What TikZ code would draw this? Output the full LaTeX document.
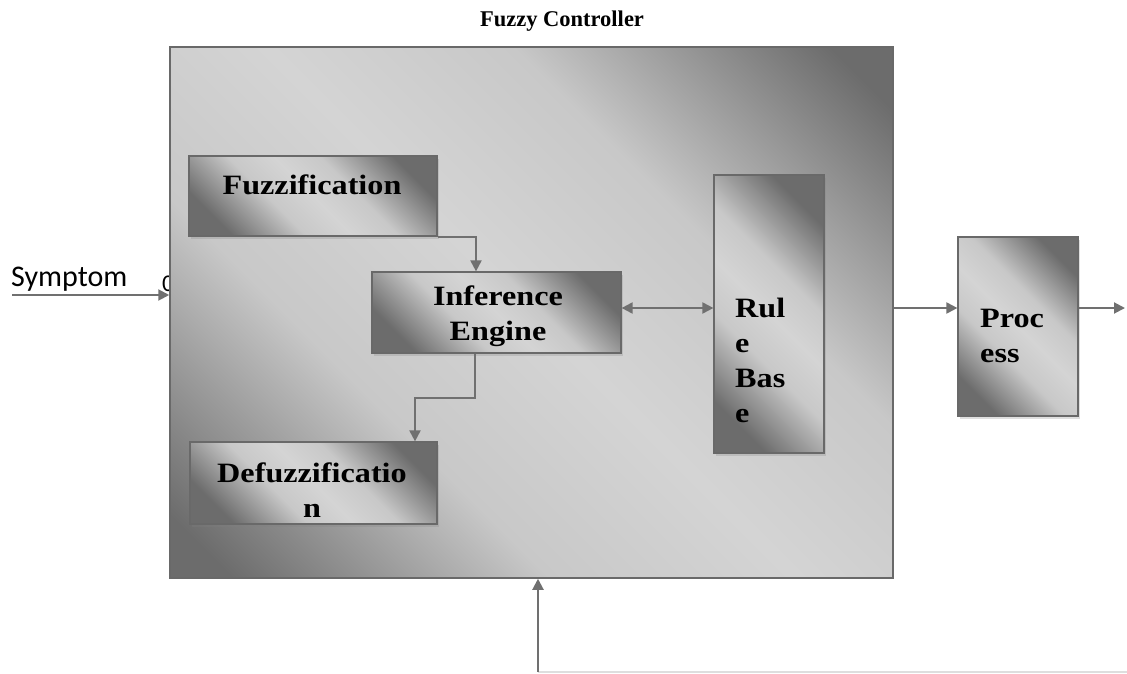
\documentclass[tikz,border=0pt]{standalone}
\usepackage{fontspec}
\setmainfont{Liberation Serif}
\newfontfamily\blockfont[FakeStretch=1.15]{Liberation Serif}
\newfontfamily\labelfont{Carlito}
\usetikzlibrary{arrows.meta,shadows,calc}

\definecolor{edgeGray}{RGB}{105,105,105}
\definecolor{arrowGray}{RGB}{112,112,112}
\definecolor{shadeDark}{RGB}{108,108,108}
\definecolor{shadeLight}{RGB}{212,212,212}
\definecolor{shadeMid}{RGB}{200,200,200}
\definecolor{faintGray}{RGB}{222,222,222}

% dark corners, wide light band
\pgfdeclareverticalshading{bandShade}{100bp}{color(0bp)=(shadeDark); color(24bp)=(shadeDark);
	color(40bp)=(shadeMid); color(50bp)=(shadeLight); color(60bp)=(shadeMid);
	color(76bp)=(shadeDark); color(100bp)=(shadeDark)}
\pgfdeclareverticalshading{ctrlShade}{100bp}{color(0bp)=(shadeDark); color(18bp)=(shadeDark);
	color(36bp)=(shadeMid); color(50bp)=(shadeLight); color(64bp)=(shadeMid);
	color(82bp)=(shadeDark); color(100bp)=(shadeDark)}

\tikzset{
	blockBox/.style={rectangle, draw=edgeGray, line width=1.2pt, shading=bandShade, shading angle=-45,
		drop shadow={shadow xshift=2pt, shadow yshift=-3pt, opacity=0.25}},
	blockText/.style={font=\blockfont\bfseries\fontsize{28}{35}\selectfont, inner sep=0pt},
	flowArrow/.style={draw=arrowGray, line width=2pt, -{Triangle[length=11pt, width=11pt]}}
}

\begin{document}
\begin{tikzpicture}[x=1pt, y=-1pt]
		\useasboundingbox (0,0) rectangle (1127,674);

		\node[font=\bfseries\fontsize{22.5}{27}\selectfont](title) at (562,21){Fuzzy Controller};
		\node[anchor=west, inner sep=0pt, font=\labelfont\fontsize{30}{36}\selectfont](symptom) at (11,279){Symptom};
		\node[anchor=west, inner sep=0pt, font=\labelfont\fontsize{24}{30}\selectfont](hidden) at (162,284){0};

		% controller box
		\node[rectangle, draw=edgeGray, line width=1.5pt, shading=ctrlShade, shading angle=-45,
			minimum width=723pt, minimum height=531pt](ctrl) at (531.5,312.5){};

		% inner blocks
		\node[blockBox, minimum width=248pt, minimum height=80pt](fuzz) at (313,196){};
		\node[blockBox, minimum width=249pt, minimum height=81pt](inf) at (496.5,312.5){};
		\node[blockBox, minimum width=247pt, minimum height=82pt](defuzz) at (313.5,483){};
		\node[blockBox, minimum width=110pt, minimum height=278pt](rule) at (769,314){};
		\node[blockBox, minimum width=120pt, minimum height=179pt](proc) at (1018,326.5){};

		\node[blockText](fuzzText) at (312,185){Fuzzification};
		\node[blockText, align=center](infText) at (498,316){Inference\\Engine};
		\node[blockText, align=center](defuzzText) at (312,490){Defuzzificatio\\n};
		\node[blockText, align=left, anchor=west](ruleText) at (735,360){Rul\\e\\Bas\\e};
		\node[blockText, align=left, anchor=west](procText) at (980,336){Proc\\ess};

		\coordinate (symIn) at (12,295);
		\coordinate (turnA) at (475,398);
		\coordinate (turnB) at (415,398);
		\coordinate (outY) at (0,308);
		\coordinate (outEnd) at (1125,308);
		\coordinate (fbEnd) at (1127,672);
		\coordinate (fbCorner) at (538,672);

		% draw input edge
		\draw[flowArrow] (symIn) -- (symIn -| ctrl.west);

		% draw inner edges
		\draw[flowArrow] (fuzz.south east) -| ($(inf.north)+(-20.5,0)$);
		\draw[flowArrow] (inf.south -| turnA) -- (turnA) -- (turnB) -- (defuzz.north -| turnB);
		\draw[flowArrow, {Triangle[length=11pt, width=11pt]}-{Triangle[length=11pt, width=11pt]}] (inf.east |- outY) -- (rule.west |- outY);

		% draw output edges
		\draw[flowArrow] (ctrl.east |- outY) -- (proc.west |- outY);
		\draw[flowArrow] (proc.east |- outY) -- (outEnd);

		% draw feedback edge
		\draw[faintGray, line width=1.5pt] (fbEnd) -- (fbCorner);
		\draw[flowArrow] (fbCorner) -- (fbCorner |- ctrl.south);

	\end{tikzpicture}
\end{document}
